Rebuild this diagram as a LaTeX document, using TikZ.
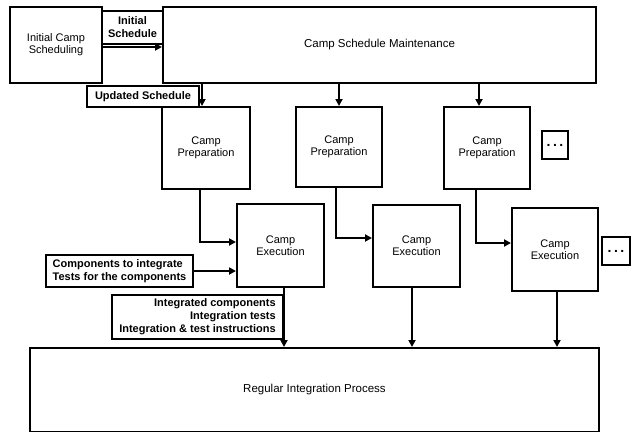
\documentclass[tikz,border=0pt]{standalone}
\usepackage{fontspec}
\setmainfont{Liberation Sans}
\usetikzlibrary{arrows.meta}
\begin{document}
\begin{tikzpicture}[x=1pt,y=-1pt,
  box/.style={draw,line width=2pt,rectangle,inner sep=0pt,align=center,font=\fontsize{11}{12}\selectfont},
  bigbox/.style={box,font=\fontsize{11.5}{13}\selectfont},
  lbl/.style={draw,line width=2pt,rectangle,inner sep=0pt,font=\fontsize{11}{13}\selectfont\bfseries},
  dotbox/.style={draw,line width=2pt,rectangle,inner sep=0pt,font=\fontsize{14}{14}\selectfont\bfseries},
  arr/.style={line width=2pt,-{Triangle[length=7pt,width=7pt]}}]
\useasboundingbox (0,0) rectangle (631,431);
% main boxes
\node[box,minimum width=92pt,minimum height=76pt] (ics) at (56,45) {Initial Camp\\Scheduling};
\node[bigbox,minimum width=433pt,minimum height=76pt] (csm) at (379.5,45) {Camp Schedule Maintenance};
\node[box,minimum width=88pt,minimum height=82pt] (cp1) at (206,148) {Camp\\Preparation};
\node[box,minimum width=86pt,minimum height=80pt] (cp2) at (339,147) {Camp\\Preparation};
\node[box,minimum width=86pt,minimum height=82pt] (cp3) at (487,148) {Camp\\Preparation};
\node[box,minimum width=87pt,minimum height=83pt] (ce1) at (280.5,245.5) {Camp\\Execution};
\node[box,minimum width=87pt,minimum height=82pt] (ce2) at (416.5,246) {Camp\\Execution};
\node[box,minimum width=86pt,minimum height=83pt] (ce3) at (555,249.5) {Camp\\Execution};
\node[bigbox,minimum width=569pt,minimum height=84pt] (rip) at (314.5,390) {Regular Integration Process};
% dots boxes
\node[dotbox,minimum width=26pt,minimum height=28pt] (d1) at (555,145) {.\hspace{2.5pt}.\hspace{2.5pt}.};
\node[dotbox,minimum width=28pt,minimum height=28pt] (d2) at (616,251) {.\hspace{2.5pt}.\hspace{2.5pt}.};
% labels
\node[lbl,align=center,minimum width=61pt,minimum height=33pt] (li) at (132.5,27.5) {Initial\\Schedule};
\node[lbl,minimum width=112pt,minimum height=21pt] (lu) at (143,96.5) {Updated Schedule};
\node[lbl,align=left,minimum width=147pt,minimum height=32pt] (lc) at (119.5,271) {Components to integrate\\Tests for the components};
\node[lbl,align=right,minimum width=171pt,minimum height=44pt] (lo) at (197.5,317) {Integrated components\\Integration tests\\Integration \& test instructions};
% connectors
\draw[arr] ([yshift=-2pt]ics.east) -- ([yshift=-2pt]csm.west);
\draw[arr] ([xshift=-4pt]cp1.north |- csm.south) -- ([xshift=-4pt]cp1.north);
\draw[arr] (cp2.north |- csm.south) -- (cp2.north);
\draw[arr] ([xshift=-8pt]cp3.north |- csm.south) -- ([xshift=-8pt]cp3.north);
\draw[arr] ([xshift=-6pt]cp1.south) |- ([yshift=3.5pt]ce1.west);
\draw[arr] ([xshift=-3pt]cp2.south) |- ([yshift=8pt]ce2.west);
\draw[arr] ([xshift=-11pt]cp3.south) |- ([yshift=6.5pt]ce3.west);
\draw[arr] (lc.east) -- (lc.east -| ce1.west);
\draw[arr] ([xshift=3.5pt]ce1.south) -- ([xshift=3.5pt]ce1.south |- rip.north);
\draw[arr] ([xshift=-4.5pt]ce2.south) -- ([xshift=-4.5pt]ce2.south |- rip.north);
\draw[arr] ([xshift=2pt]ce3.south) -- ([xshift=2pt]ce3.south |- rip.north);
\end{tikzpicture}
\end{document}
